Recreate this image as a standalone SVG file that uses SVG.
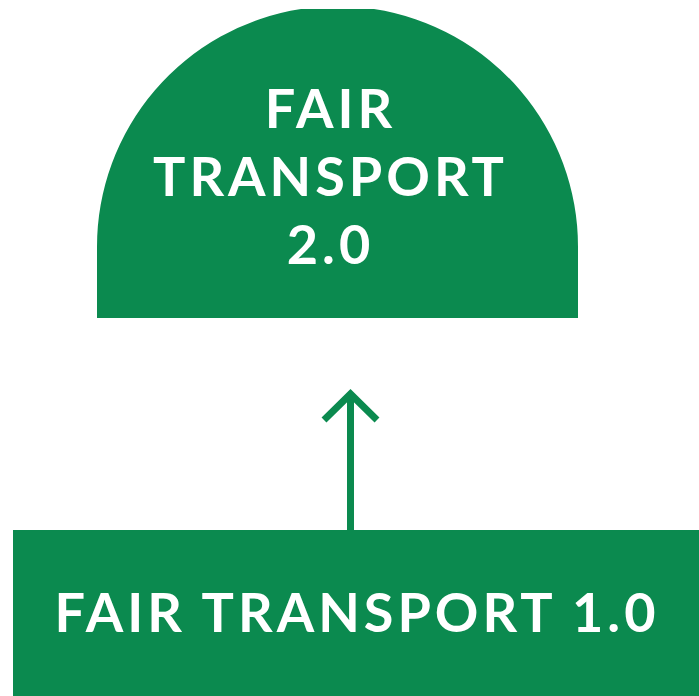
<svg xmlns="http://www.w3.org/2000/svg" width="699" height="696" viewBox="0 0 699 696">
<style>
.shape{fill:#0B8A4F}
.lbl{fill:#ffffff;font-family:Lato,"Liberation Sans",sans-serif;font-weight:bold;font-size:54px;letter-spacing:4px;text-anchor:middle}
.conn{fill:none;stroke:#0B8A4F;stroke-width:7}
</style>
<rect width="699" height="696" fill="#ffffff"/>
<g id="node-ft2">
<path class="shape" d="M97,318 L97,247 A240.5,240.5 0 0 1 301,9 L374,9 A240.5,240.5 0 0 1 578,247 L578,318 Z"/>
<text class="lbl" x="330.5" y="128">FAIR</text>
<text class="lbl" x="330.5" y="196">TRANSPORT</text>
<text class="lbl" x="330.5" y="264">2.0</text>
</g>
<g id="node-ft1">
<rect class="shape" x="13" y="530" width="686" height="166"/>
<text class="lbl" x="357" y="632">FAIR TRANSPORT 1.0</text>
</g>
<g id="connectors">
<line class="conn" x1="350.5" y1="530" x2="350.5" y2="394"/>
<polyline class="conn" points="324,420 350.5,394 377,420" stroke-linejoin="miter"/>
</g>
</svg>
